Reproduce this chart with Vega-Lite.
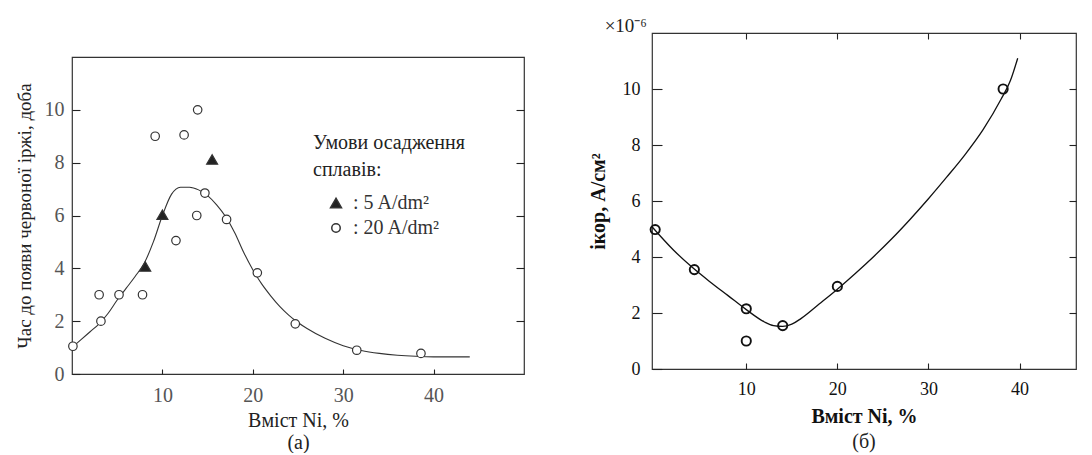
{
  "$schema": "https://vega.github.io/schema/vega-lite/v6.json",
  "background": "white",
  "padding": {"left": 14, "top": 16, "right": 0, "bottom": 0},
  "spacing": 61,
  "config": {
    "view": {"stroke": "#333", "strokeWidth": 1.2},
    "font": "Liberation Serif",
    "axis": {"grid": false, "domain": false, "labelFont": "Liberation Serif", "titleFont": "Liberation Serif", "tickColor": "#222", "tickWidth": 1.1}
  },
  "datasets": {
    "leftPts": [
      {"x": 0.1, "y": 1.05, "cond": "20"},
      {"x": 3.0, "y": 3.0, "cond": "20"},
      {"x": 3.2, "y": 2.0, "cond": "20"},
      {"x": 5.2, "y": 3.0, "cond": "20"},
      {"x": 7.8, "y": 3.0, "cond": "20"},
      {"x": 9.2, "y": 9.0, "cond": "20"},
      {"x": 11.5, "y": 5.05, "cond": "20"},
      {"x": 12.4, "y": 9.05, "cond": "20"},
      {"x": 13.8, "y": 6.0, "cond": "20"},
      {"x": 13.9, "y": 10.0, "cond": "20"},
      {"x": 14.7, "y": 6.85, "cond": "20"},
      {"x": 17.1, "y": 5.85, "cond": "20"},
      {"x": 20.5, "y": 3.83, "cond": "20"},
      {"x": 24.7, "y": 1.9, "cond": "20"},
      {"x": 31.5, "y": 0.9, "cond": "20"},
      {"x": 38.6, "y": 0.78, "cond": "20"},
      {"x": 8.1, "y": 4.07, "cond": "5"},
      {"x": 10.0, "y": 6.03, "cond": "5"},
      {"x": 15.5, "y": 8.12, "cond": "5"}
    ],
    "leftCurve": [
      {"x": 0, "y": 1.0}, {"x": 1, "y": 1.3}, {"x": 2, "y": 1.6}, {"x": 3, "y": 1.9},
      {"x": 4, "y": 2.3}, {"x": 5, "y": 2.8}, {"x": 6, "y": 3.25}, {"x": 7, "y": 3.7},
      {"x": 8, "y": 4.2}, {"x": 9, "y": 5.0}, {"x": 10, "y": 6.0}, {"x": 11, "y": 6.8},
      {"x": 11.5, "y": 7.0}, {"x": 12, "y": 7.07}, {"x": 13, "y": 7.07}, {"x": 14, "y": 6.97},
      {"x": 15, "y": 6.75}, {"x": 16, "y": 6.4}, {"x": 17, "y": 5.95}, {"x": 18, "y": 5.35},
      {"x": 19, "y": 4.6}, {"x": 20, "y": 3.95}, {"x": 21, "y": 3.4}, {"x": 22, "y": 2.95},
      {"x": 23, "y": 2.55}, {"x": 24, "y": 2.22}, {"x": 25, "y": 1.95}, {"x": 26, "y": 1.72},
      {"x": 28, "y": 1.35}, {"x": 30, "y": 1.07}, {"x": 32, "y": 0.89}, {"x": 34, "y": 0.78},
      {"x": 36, "y": 0.71}, {"x": 38, "y": 0.67}, {"x": 40, "y": 0.65}, {"x": 42, "y": 0.65},
      {"x": 44, "y": 0.65}
    ],
    "rightPts": [
      {"x": 0, "y": 4.98}, {"x": 4.3, "y": 3.55}, {"x": 10, "y": 2.15}, {"x": 10, "y": 1.0},
      {"x": 14, "y": 1.55}, {"x": 20, "y": 2.95}, {"x": 38.2, "y": 10.0}
    ],
    "rightCurve": [
      {"x": -0.35, "y": 5.08}, {"x": 2, "y": 4.25}, {"x": 4, "y": 3.65}, {"x": 6, "y": 3.12},
      {"x": 8, "y": 2.62}, {"x": 10, "y": 2.12}, {"x": 12, "y": 1.68}, {"x": 13, "y": 1.55},
      {"x": 14, "y": 1.52}, {"x": 15, "y": 1.6}, {"x": 16, "y": 1.8}, {"x": 18, "y": 2.32},
      {"x": 20, "y": 2.85}, {"x": 22, "y": 3.42}, {"x": 24, "y": 4.02}, {"x": 26, "y": 4.66},
      {"x": 28, "y": 5.35}, {"x": 30, "y": 6.08}, {"x": 32, "y": 6.85}, {"x": 34, "y": 7.65},
      {"x": 36, "y": 8.55}, {"x": 38, "y": 9.65}, {"x": 39, "y": 10.3}, {"x": 39.8, "y": 11.1}
    ]
  },
  "hconcat": [
    {
      "spacing": 0,
      "vconcat": [
        {
          "width": 1,
          "height": 23,
          "view": {"stroke": null},
          "data": {"values": []},
          "mark": {"type": "point", "opacity": 0},
          "encoding": {}
        },
        {
          "width": 452,
          "height": 317,
          "layer": [
            {
              "data": {"name": "leftCurve"},
              "mark": {"type": "line", "color": "#333", "strokeWidth": 1.1, "interpolate": "monotone"},
              "encoding": {
                "x": {"field": "x", "type": "quantitative", "scale": {"domain": [0, 50], "nice": false, "zero": false},
                  "axis": {"orient": "bottom", "values": [10, 20, 30, 40], "tickSize": -5, "labelPadding": 16, "labelFontSize": 20, "labelColor": "#555",
                    "title": ["Вміст Ni, %", "(a)"], "titleFontSize": 20, "titleFontWeight": "normal", "titleColor": "#222", "titleLineHeight": 22, "titlePadding": 5}},
                "y": {"field": "y", "type": "quantitative", "scale": {"domain": [0, 12], "nice": false},
                  "axis": {"orient": "left", "values": [0, 2, 4, 6, 8, 10], "tickSize": -8, "labelPadding": 16, "labelFontSize": 20, "labelColor": "#555",
                    "title": "Час до появи червоної іржі, доба", "titleFontSize": 19, "titleFontWeight": "normal", "titleColor": "#222", "titlePadding": 10}}
              }
            },
            {
              "data": {"name": "leftPts"},
              "mark": {"type": "point", "filled": true, "stroke": "#333", "strokeWidth": 1.2, "opacity": 1},
              "encoding": {
                "x": {"field": "x", "type": "quantitative", "axis": null},
                "y": {"field": "y", "type": "quantitative",
                  "axis": {"orient": "right", "values": [2, 4, 6, 8, 10], "labels": false, "tickSize": -8, "title": null}},
                "shape": {"field": "cond", "type": "nominal", "scale": {"domain": ["5", "20"], "range": ["triangle-up", "circle"]},
                  "legend": {"orient": "none", "legendX": 241, "legendY": 100, "title": ["Умови  осадження", "сплавів:"],
                    "titleFont": "Liberation Serif", "titleFontSize": 20, "titleFontWeight": "normal", "titleColor": "#222", "titleLineHeight": 27, "titlePadding": 13,
                    "labelFont": "Liberation Serif", "labelFontSize": 20, "labelColor": "#333", "labelOffset": 7, "symbolOffset": 13, "rowPadding": 5,
                    "padding": 0,
                    "encode": {"symbols": {"update": {"stroke": {"value": "#333"}, "strokeWidth": {"value": 1.2}}}},
                    "labelExpr": "datum.label == '5' ? ':  5 A/dm²' : ': 20 A/dm²'"}},
                "fill": {"field": "cond", "type": "nominal", "scale": {"domain": ["5", "20"], "range": ["#222", "white"]},
                  "legend": {"orient": "none", "legendX": 241, "legendY": 100, "title": ["Умови  осадження", "сплавів:"],
                    "titleFont": "Liberation Serif", "titleFontSize": 20, "titleFontWeight": "normal", "titleColor": "#222", "titleLineHeight": 27, "titlePadding": 13,
                    "labelFont": "Liberation Serif", "labelFontSize": 20, "labelColor": "#333", "labelOffset": 7, "symbolOffset": 13, "rowPadding": 5,
                    "padding": 0,
                    "encode": {"symbols": {"update": {"stroke": {"value": "#333"}, "strokeWidth": {"value": 1.2}}}},
                    "labelExpr": "datum.label == '5' ? ':  5 A/dm²' : ': 20 A/dm²'"}},
                "size": {"field": "cond", "type": "nominal", "scale": {"domain": ["5", "20"], "range": [120, 72]},
                  "legend": {"orient": "none", "legendX": 241, "legendY": 100, "title": ["Умови  осадження", "сплавів:"],
                    "titleFont": "Liberation Serif", "titleFontSize": 20, "titleFontWeight": "normal", "titleColor": "#222", "titleLineHeight": 27, "titlePadding": 13,
                    "labelFont": "Liberation Serif", "labelFontSize": 20, "labelColor": "#333", "labelOffset": 7, "symbolOffset": 13, "rowPadding": 5,
                    "padding": 0,
                    "encode": {"symbols": {"update": {"stroke": {"value": "#333"}, "strokeWidth": {"value": 1.2}}}},
                    "labelExpr": "datum.label == '5' ? ':  5 A/dm²' : ': 20 A/dm²'"}}
              }
            }
          ],
          "resolve": {"axis": {"x": "independent", "y": "independent"}}
        }
      ]
    },
    {
      "width": 424,
      "height": 336,
      "title": {"text": "(б)", "orient": "bottom", "fontSize": 20, "fontWeight": "normal", "font": "Liberation Serif", "color": "#222", "offset": 6},
      "layer": [
        {
          "data": {"name": "rightCurve"},
          "mark": {"type": "line", "color": "#111", "strokeWidth": 1.3, "interpolate": "monotone"},
          "encoding": {
            "x": {"field": "x", "type": "quantitative", "scale": {"domain": [-0.35, 46.2], "nice": false, "zero": false},
              "axis": {"orient": "bottom", "values": [10, 20, 30, 40], "tickSize": -6, "labelPadding": 17, "labelFontSize": 18, "labelColor": "#111",
                "title": "Вміст Ni, %", "titleFontSize": 20, "titleFontWeight": "bold", "titleColor": "#111", "titlePadding": 8}},
            "y": {"field": "y", "type": "quantitative", "scale": {"domain": [0, 12], "nice": false},
              "axis": {"orient": "left", "values": [0, 2, 4, 6, 8, 10], "tickSize": -10, "labelPadding": 22, "labelFontSize": 18, "labelColor": "#111",
                "title": "iкор, A/см²", "titleFontSize": 20, "titleFontWeight": "bold", "titleColor": "#111", "titlePadding": 14}}
          }
        },
        {
          "data": {"name": "rightPts"},
          "mark": {"type": "point", "filled": false, "shape": "circle", "size": 85, "stroke": "#111", "strokeWidth": 1.9, "opacity": 1},
          "encoding": {
            "x": {"field": "x", "type": "quantitative",
              "axis": {"orient": "top", "values": [10, 20, 30, 40], "labels": false, "tickSize": -6, "title": null}},
            "y": {"field": "y", "type": "quantitative",
              "axis": {"orient": "right", "values": [2, 4, 6, 8, 10], "labels": false, "tickSize": -7, "title": null}}
          }
        },
        {
          "data": {"values": [{"label": "×10⁻⁶"}]},
          "mark": {"type": "text", "align": "right", "baseline": "alphabetic", "dx": -5, "dy": -1, "fontSize": 19, "font": "Liberation Serif", "color": "#222"},
          "encoding": {
            "x": {"datum": -0.35, "type": "quantitative", "axis": null},
            "y": {"datum": 12, "type": "quantitative", "axis": null},
            "text": {"field": "label"}
          }
        }
      ],
      "resolve": {"axis": {"x": "independent", "y": "independent"}}
    }
  ]
}
